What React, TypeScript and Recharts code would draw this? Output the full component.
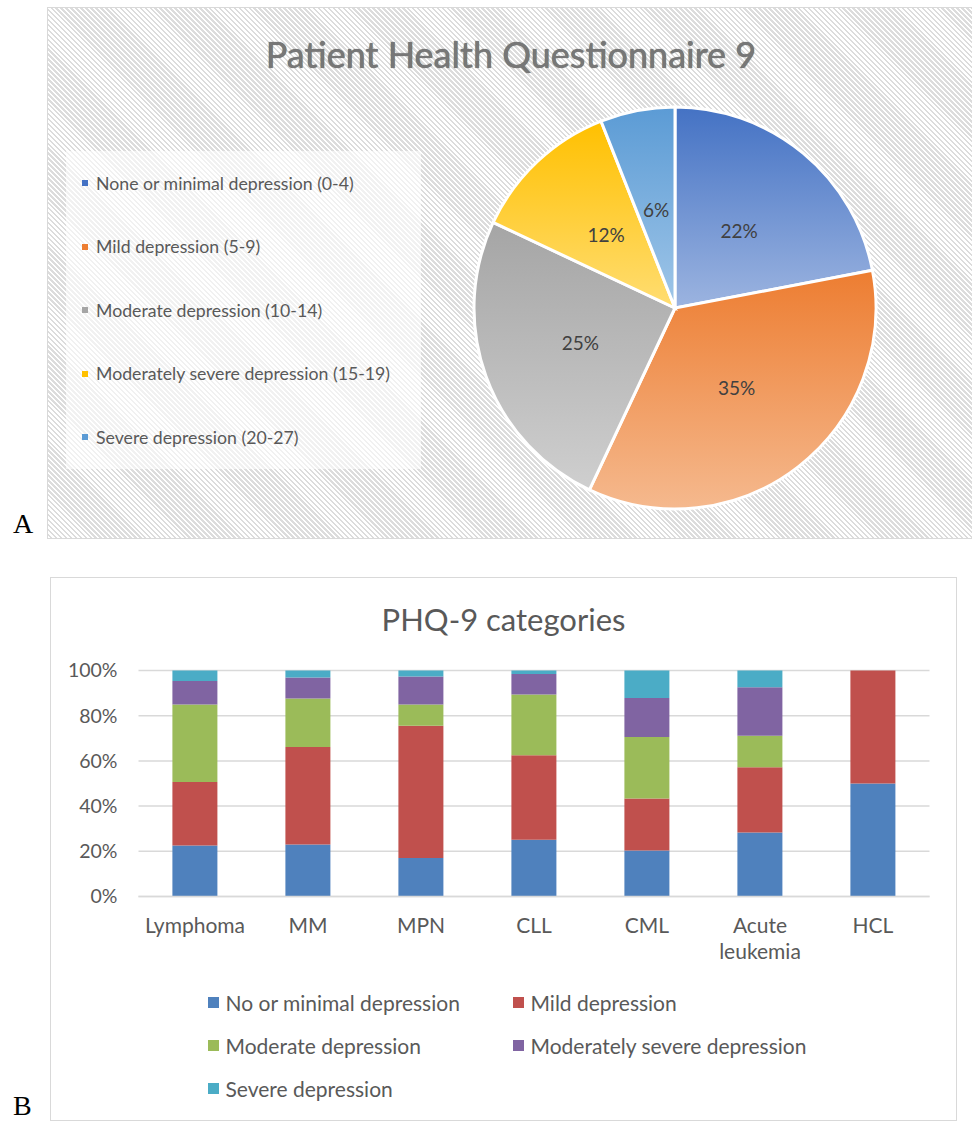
import React from "react";
import {
    PieChart,
    Pie,
    Cell,
    BarChart,
    Bar,
    XAxis,
    YAxis,
    CartesianGrid
} from "recharts";

// panel A - PHQ-9 totals
const pieLabels = [
    "None or minimal depression (0-4)",
    "Mild depression (5-9)",
    "Moderate depression (10-14)",
    "Moderately severe depression (15-19)",
    "Severe depression (20-27)"
];
const pieValues = [22, 35, 25, 12, 6];
const pieTop = ["#4472C4", "#ED7D31", "#A5A5A5", "#FFC000", "#5B9BD5"];
const pieBottom = ["#9CB4E0", "#F5B98E", "#CFCFCF", "#FFDD72", "#A0C6E8"];

// panel B - categories per diagnosis
const categories = ["Lymphoma", "MM", "MPN", "CLL", "CML", "Acute leukemia", "HCL"];
const noneMin = [22.6, 23.0, 17.0, 25.1, 20.4, 28.3, 50];
const mild = [28.1, 43.2, 58.5, 37.4, 23.0, 28.9, 50];
const moderate = [34.3, 21.4, 9.5, 26.9, 27.2, 13.9, 0];
const modSevere = [10.3, 9.3, 12.3, 9.0, 17.2, 21.5, 0];
const severe = [4.7, 3.1, 2.7, 1.6, 12.2, 7.4, 0];
const yTicks = [0, 0.2, 0.4, 0.6, 0.8, 1];

const seriesNames = [
    "No or minimal depression",
    "Mild depression",
    "Moderate depression",
    "Moderately severe depression",
    "Severe depression"
];
const seriesKeys = ["none", "mild", "moderate", "modSevere", "severe"];
const seriesColors = ["#4F81BD", "#C0504D", "#9BBB59", "#8064A2", "#4BACC6"];

const pieData = pieLabels.map((name, i) => ({ name, value: pieValues[i] }));
const barData = categories.map((name, i) => ({
    name,
    none: noneMin[i],
    mild: mild[i],
    moderate: moderate[i],
    modSevere: modSevere[i],
    severe: severe[i]
}));

const FONT = "Lato, 'Open Sans', sans-serif";
const RADIAN = Math.PI / 180;

// @ts-ignore
const renderPieLabel = ({ cx, cy, midAngle, outerRadius, percent }) => {
    const r = outerRadius * 0.5;
    const x = cx + r * Math.cos(-midAngle * RADIAN);
    const y = cy + r * Math.sin(-midAngle * RADIAN);
    return (
        <text x={x} y={y} fill="#404040" fontSize={19} fontFamily={FONT}
            textAnchor="middle" dominantBaseline="central">
            {`${Math.round(percent * 100)}%`}
        </text>
    );
};

// @ts-ignore
const CategoryTick = ({ x, y, payload }) => {
    const words = payload.value.length > 10 ? payload.value.split(" ") : [payload.value];
    return (
        <text x={x} y={y} fill="#595959" fontSize={21} fontFamily={FONT} textAnchor="middle">
            {words.map((w: string, i: number) => (
                <tspan key={i} x={x} dy={i === 0 ? "0.62em" : 26}>{w}</tspan>
            ))}
        </text>
    );
};

const hatch =
    "repeating-linear-gradient(45deg, #ffffff 0px, #ffffff 1.7px, #dcdcdc 1.7px, #dcdcdc 3.5px)";

const App = () => {
    return (
        <div style={{ position: "absolute", left: 0, top: 0, width: 972, height: 1123, background: "#fff", fontFamily: FONT }}>
            {/* panel letters */}
            <div style={{ position: "absolute", left: 13, top: 508, fontFamily: "'Liberation Serif', serif", fontSize: 28 }}>A</div>
            <div style={{ position: "absolute", left: 13, top: 1090, fontFamily: "'Liberation Serif', serif", fontSize: 28 }}>B</div>

            {/* panel A */}
            <div style={{
                position: "absolute", left: 47, top: 7, width: 926, height: 530,
                border: "1.5px solid #d9d9d9", borderRight: "none", background: hatch, overflow: "hidden"
            }}>
                <div style={{
                    position: "absolute", left: 0, width: 926, top: 24, textAlign: "center",
                    fontSize: 36, color: "#777777", textShadow: "0 0 1px #555"
                }}>
                    Patient Health Questionnaire 9
                </div>
                <div style={{
                    position: "absolute", left: 18, top: 143, width: 355, height: 318,
                    background: "rgba(255,255,255,0.6)"
                }}>
                    {pieLabels.map((label, i) => (
                        <div key={label} style={{
                            position: "absolute", left: 16, top: 32 + i * 63.5 - 12, height: 24,
                            display: "flex", alignItems: "center", fontSize: 17.7, color: "#595959", whiteSpace: "nowrap"
                        }}>
                            <span style={{ width: 6, height: 6, background: pieTop[i], marginRight: 8 }} />
                            {label}
                        </div>
                    ))}
                </div>
                <div style={{ position: "absolute", left: 0, top: 0 }}>
                    <PieChart width={926} height={530}>
                        <defs>
                            {pieTop.map((c, i) => (
                                <linearGradient key={i} id={`pg${i}`} x1="0" y1="0" x2="0" y2="1">
                                    <stop offset="0%" stopColor={c} />
                                    <stop offset="100%" stopColor={pieBottom[i]} />
                                </linearGradient>
                            ))}
                        </defs>
                        <Pie
                            data={pieData}
                            dataKey="value"
                            nameKey="name"
                            cx={622}
                            cy={295}
                            outerRadius={201}
                            startAngle={90}
                            endAngle={-270}
                            stroke="#ffffff"
                            strokeWidth={3}
                            labelLine={false}
                            // @ts-ignore
                            label={renderPieLabel}
                            isAnimationActive={false}
                        >
                            {pieData.map((d, i) => (
                                <Cell key={d.name} fill={`url(#pg${i})`} />
                            ))}
                        </Pie>
                    </PieChart>
                </div>
            </div>

            {/* panel B */}
            <div style={{
                position: "absolute", left: 50, top: 577, width: 905, height: 542,
                border: "1.5px solid #d9d9d9", background: "#fff"
            }}>
                <div style={{
                    position: "absolute", left: 0, width: 905, top: 22, textAlign: "center",
                    fontSize: 31, color: "#595959"
                }}>
                    PHQ-9 categories
                </div>
                <BarChart
                    width={905}
                    height={542}
                    data={barData}
                    stackOffset="expand"
                    barCategoryGap="30%"
                    margin={{ top: 92.5, right: 26.5, left: 0, bottom: 163.5 }}
                >
                    <CartesianGrid vertical={false} stroke="#d9d9d9" strokeWidth={1.5} />
                    <XAxis
                        dataKey="name"
                        axisLine={{ stroke: "#d9d9d9", strokeWidth: 1.5 }}
                        tickLine={false}
                        height={60}
                        tickMargin={17}
                        interval={0}
                        // @ts-ignore
                        tick={<CategoryTick />}
                    />
                    <YAxis
                        width={87.5}
                        domain={[0, 1]}
                        ticks={yTicks}
                        axisLine={false}
                        tickLine={false}
                        tickMargin={15}
                        tick={{ fill: "#595959", fontSize: 19.5, fontFamily: FONT }}
                        tickFormatter={(v) => `${Math.round(v * 100)}%`}
                    />
                    {seriesKeys.map((k, i) => (
                        <Bar key={k} dataKey={k} name={seriesNames[i]} stackId="a"
                            fill={seriesColors[i]} isAnimationActive={false} />
                    ))}
                </BarChart>
                {seriesNames.map((n, i) => (
                    <div key={n} style={{
                        position: "absolute",
                        left: (i % 2 === 0 ? 208 : 513) - 51.5,
                        top: 1003 - 578.5 + Math.floor(i / 2) * 43 - 14,
                        height: 28, display: "flex", alignItems: "center",
                        fontSize: 21, color: "#595959", whiteSpace: "nowrap"
                    }}>
                        <span style={{ width: 11, height: 11, background: seriesColors[i], marginRight: 7 }} />
                        {n}
                    </div>
                ))}
            </div>
        </div>
    );
};

export default App;
